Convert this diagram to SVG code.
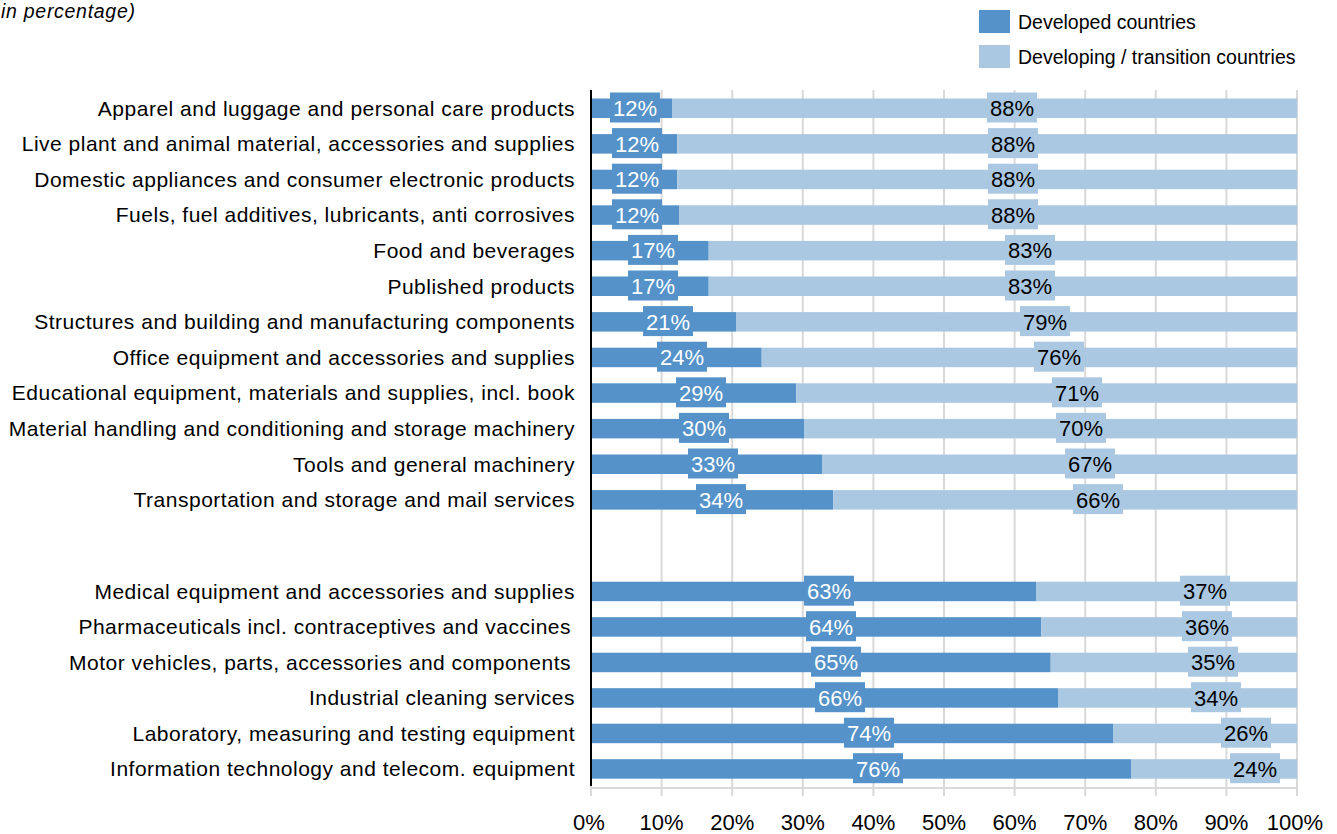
<svg xmlns="http://www.w3.org/2000/svg" width="1337" height="834" viewBox="0 0 1337 834">
<style>
text{font-family:"Liberation Sans",Arial,sans-serif;}
.cat{font-size:21px;fill:#000;text-anchor:end;letter-spacing:0.5px;}
.pct{font-size:22px;text-anchor:middle;}
.pw{fill:#ffffff;}
.pb{fill:#000000;}
.dk{fill:#5492C9;}
.lt{fill:#AAC8E1;}
.grid{stroke:#D9D9D9;stroke-width:2;}
.ax{font-size:22px;text-anchor:middle;fill:#000;}
.leg{font-size:19.5px;fill:#000;}
</style>
<rect width="1337" height="834" fill="#ffffff"/>
<text x="1" y="18" textLength="134" lengthAdjust="spacing" style="font-size:19.5px;font-style:italic;" fill="#000">in percentage)</text>
<g id="legend">
<rect class="dk" x="979" y="10" width="31" height="23"/>
<text class="leg" x="1018" y="29">Developed countries</text>
<rect class="lt" x="979" y="45" width="31" height="23"/>
<text class="leg" x="1018" y="64">Developing / transition countries</text>
</g>
<g id="gridlines">
<line class="grid" x1="661.6" y1="90" x2="661.6" y2="796"/>
<line class="grid" x1="732.2" y1="90" x2="732.2" y2="796"/>
<line class="grid" x1="802.8" y1="90" x2="802.8" y2="796"/>
<line class="grid" x1="873.4" y1="90" x2="873.4" y2="796"/>
<line class="grid" x1="944" y1="90" x2="944" y2="796"/>
<line class="grid" x1="1014.6" y1="90" x2="1014.6" y2="796"/>
<line class="grid" x1="1085.2" y1="90" x2="1085.2" y2="796"/>
<line class="grid" x1="1155.8" y1="90" x2="1155.8" y2="796"/>
<line class="grid" x1="1226.4" y1="90" x2="1226.4" y2="796"/>
<line class="grid" x1="1297" y1="90" x2="1297" y2="796"/>
<line class="grid" x1="591" y1="788" x2="1297" y2="788"/>
<line class="grid" x1="591" y1="786" x2="591" y2="796"/>
</g>
<g id="row-1" transform="translate(0,98.5)">
<text class="cat" x="575" y="17">Apparel and luggage and personal care products</text>
<rect class="dk" x="591" y="0" width="81" height="19.5"/><rect class="lt" x="672" y="0" width="625" height="19.5"/>
<rect class="dk" x="610" y="-6" width="50" height="30"/><text class="pct pw" x="635" y="17.5">12%</text>
<rect class="lt" x="987" y="-6" width="50" height="30"/><text class="pct pb" x="1012" y="17.5">88%</text>
</g>
<g id="row-2" transform="translate(0,134.1)">
<text class="cat" x="575" y="17">Live plant and animal material, accessories and supplies</text>
<rect class="dk" x="591" y="0" width="86.3" height="19.5"/><rect class="lt" x="677.3" y="0" width="619.7" height="19.5"/>
<rect class="dk" x="612" y="-6" width="50" height="30"/><text class="pct pw" x="637" y="17.5">12%</text>
<rect class="lt" x="988" y="-6" width="50" height="30"/><text class="pct pb" x="1013" y="17.5">88%</text>
</g>
<g id="row-3" transform="translate(0,169.7)">
<text class="cat" x="575" y="17">Domestic appliances and consumer electronic products</text>
<rect class="dk" x="591" y="0" width="86.3" height="19.5"/><rect class="lt" x="677.3" y="0" width="619.7" height="19.5"/>
<rect class="dk" x="612" y="-6" width="50" height="30"/><text class="pct pw" x="637" y="17.5">12%</text>
<rect class="lt" x="988" y="-6" width="50" height="30"/><text class="pct pb" x="1013" y="17.5">88%</text>
</g>
<g id="row-4" transform="translate(0,205.3)">
<text class="cat" x="575" y="17">Fuels, fuel additives, lubricants, anti corrosives</text>
<rect class="dk" x="591" y="0" width="88" height="19.5"/><rect class="lt" x="679" y="0" width="618" height="19.5"/>
<rect class="dk" x="612" y="-6" width="50" height="30"/><text class="pct pw" x="637" y="17.5">12%</text>
<rect class="lt" x="988" y="-6" width="50" height="30"/><text class="pct pb" x="1013" y="17.5">88%</text>
</g>
<g id="row-5" transform="translate(0,240.9)">
<text class="cat" x="575" y="17">Food and beverages</text>
<rect class="dk" x="591" y="0" width="117.7" height="19.5"/><rect class="lt" x="708.7" y="0" width="588.3" height="19.5"/>
<rect class="dk" x="628" y="-6" width="50" height="30"/><text class="pct pw" x="653" y="17.5">17%</text>
<rect class="lt" x="1005" y="-6" width="50" height="30"/><text class="pct pb" x="1030" y="17.5">83%</text>
</g>
<g id="row-6" transform="translate(0,276.5)">
<text class="cat" x="575" y="17">Published products</text>
<rect class="dk" x="591" y="0" width="117.7" height="19.5"/><rect class="lt" x="708.7" y="0" width="588.3" height="19.5"/>
<rect class="dk" x="628" y="-6" width="50" height="30"/><text class="pct pw" x="653" y="17.5">17%</text>
<rect class="lt" x="1005" y="-6" width="50" height="30"/><text class="pct pb" x="1030" y="17.5">83%</text>
</g>
<g id="row-7" transform="translate(0,312.1)">
<text class="cat" x="575" y="17">Structures and building and manufacturing components</text>
<rect class="dk" x="591" y="0" width="145" height="19.5"/><rect class="lt" x="736" y="0" width="561" height="19.5"/>
<rect class="dk" x="643" y="-6" width="50" height="30"/><text class="pct pw" x="668" y="17.5">21%</text>
<rect class="lt" x="1020" y="-6" width="50" height="30"/><text class="pct pb" x="1045" y="17.5">79%</text>
</g>
<g id="row-8" transform="translate(0,347.7)">
<text class="cat" x="575" y="17">Office equipment and accessories and supplies</text>
<rect class="dk" x="591" y="0" width="170.7" height="19.5"/><rect class="lt" x="761.7" y="0" width="535.3" height="19.5"/>
<rect class="dk" x="657" y="-6" width="50" height="30"/><text class="pct pw" x="682" y="17.5">24%</text>
<rect class="lt" x="1034" y="-6" width="50" height="30"/><text class="pct pb" x="1059" y="17.5">76%</text>
</g>
<g id="row-9" transform="translate(0,383.3)">
<text class="cat" x="575" y="17">Educational equipment, materials and supplies, incl. book</text>
<rect class="dk" x="591" y="0" width="205.3" height="19.5"/><rect class="lt" x="796.3" y="0" width="500.7" height="19.5"/>
<rect class="dk" x="676" y="-6" width="50" height="30"/><text class="pct pw" x="701" y="17.5">29%</text>
<rect class="lt" x="1052" y="-6" width="50" height="30"/><text class="pct pb" x="1077" y="17.5">71%</text>
</g>
<g id="row-10" transform="translate(0,418.9)">
<text class="cat" x="575" y="17">Material handling and conditioning and storage machinery</text>
<rect class="dk" x="591" y="0" width="213" height="19.5"/><rect class="lt" x="804" y="0" width="493" height="19.5"/>
<rect class="dk" x="679" y="-6" width="50" height="30"/><text class="pct pw" x="704" y="17.5">30%</text>
<rect class="lt" x="1056" y="-6" width="50" height="30"/><text class="pct pb" x="1081" y="17.5">70%</text>
</g>
<g id="row-11" transform="translate(0,454.5)">
<text class="cat" x="575" y="17">Tools and general machinery</text>
<rect class="dk" x="591" y="0" width="231" height="19.5"/><rect class="lt" x="822" y="0" width="475" height="19.5"/>
<rect class="dk" x="688" y="-6" width="50" height="30"/><text class="pct pw" x="713" y="17.5">33%</text>
<rect class="lt" x="1065" y="-6" width="50" height="30"/><text class="pct pb" x="1090" y="17.5">67%</text>
</g>
<g id="row-12" transform="translate(0,490.1)">
<text class="cat" x="575" y="17">Transportation and storage and mail services</text>
<rect class="dk" x="591" y="0" width="242.3" height="19.5"/><rect class="lt" x="833.3" y="0" width="463.7" height="19.5"/>
<rect class="dk" x="696" y="-6" width="50" height="30"/><text class="pct pw" x="721" y="17.5">34%</text>
<rect class="lt" x="1073" y="-6" width="50" height="30"/><text class="pct pb" x="1098" y="17.5">66%</text>
</g>
<g id="row-13" transform="translate(0,581.7)">
<text class="cat" x="575" y="17">Medical equipment and accessories and supplies</text>
<rect class="dk" x="591" y="0" width="445" height="19.5"/><rect class="lt" x="1036" y="0" width="261" height="19.5"/>
<rect class="dk" x="804" y="-6" width="50" height="30"/><text class="pct pw" x="829" y="17.5">63%</text>
<rect class="lt" x="1180" y="-6" width="50" height="30"/><text class="pct pb" x="1205" y="17.5">37%</text>
</g>
<g id="row-14" transform="translate(0,617.2)">
<text class="cat" x="571" y="17">Pharmaceuticals incl. contraceptives and vaccines</text>
<rect class="dk" x="591" y="0" width="450.3" height="19.5"/><rect class="lt" x="1041.3" y="0" width="255.7" height="19.5"/>
<rect class="dk" x="806" y="-6" width="50" height="30"/><text class="pct pw" x="831" y="17.5">64%</text>
<rect class="lt" x="1182" y="-6" width="50" height="30"/><text class="pct pb" x="1207" y="17.5">36%</text>
</g>
<g id="row-15" transform="translate(0,652.7)">
<text class="cat" x="571" y="17">Motor vehicles, parts, accessories and components</text>
<rect class="dk" x="591" y="0" width="459.7" height="19.5"/><rect class="lt" x="1050.7" y="0" width="246.3" height="19.5"/>
<rect class="dk" x="811" y="-6" width="50" height="30"/><text class="pct pw" x="836" y="17.5">65%</text>
<rect class="lt" x="1188" y="-6" width="50" height="30"/><text class="pct pb" x="1213" y="17.5">35%</text>
</g>
<g id="row-16" transform="translate(0,688.2)">
<text class="cat" x="575" y="17">Industrial cleaning services</text>
<rect class="dk" x="591" y="0" width="467" height="19.5"/><rect class="lt" x="1058" y="0" width="239" height="19.5"/>
<rect class="dk" x="815" y="-6" width="50" height="30"/><text class="pct pw" x="840" y="17.5">66%</text>
<rect class="lt" x="1191" y="-6" width="50" height="30"/><text class="pct pb" x="1216" y="17.5">34%</text>
</g>
<g id="row-17" transform="translate(0,723.7)">
<text class="cat" x="575" y="17">Laboratory, measuring and testing equipment</text>
<rect class="dk" x="591" y="0" width="522" height="19.5"/><rect class="lt" x="1113" y="0" width="184" height="19.5"/>
<rect class="dk" x="844" y="-6" width="50" height="30"/><text class="pct pw" x="869" y="17.5">74%</text>
<rect class="lt" x="1221" y="-6" width="50" height="30"/><text class="pct pb" x="1246" y="17.5">26%</text>
</g>
<g id="row-18" transform="translate(0,759.2)">
<text class="cat" x="575" y="17">Information technology and telecom. equipment</text>
<rect class="dk" x="591" y="0" width="540" height="19.5"/><rect class="lt" x="1131" y="0" width="166" height="19.5"/>
<rect class="dk" x="853" y="-6" width="50" height="30"/><text class="pct pw" x="878" y="17.5">76%</text>
<rect class="lt" x="1230" y="-6" width="50" height="30"/><text class="pct pb" x="1255" y="17.5">24%</text>
</g>
<g id="axis">
<line x1="591" y1="90" x2="591" y2="786" stroke="#000" stroke-width="2"/>
<text class="ax" x="589" y="830">0%</text>
<text class="ax" x="661.6" y="830">10%</text>
<text class="ax" x="732.2" y="830">20%</text>
<text class="ax" x="802.8" y="830">30%</text>
<text class="ax" x="873.4" y="830">40%</text>
<text class="ax" x="944" y="830">50%</text>
<text class="ax" x="1014.6" y="830">60%</text>
<text class="ax" x="1085.2" y="830">70%</text>
<text class="ax" x="1155.8" y="830">80%</text>
<text class="ax" x="1226.4" y="830">90%</text>
<text class="ax" x="1295" y="830">100%</text>
</g>
</svg>
